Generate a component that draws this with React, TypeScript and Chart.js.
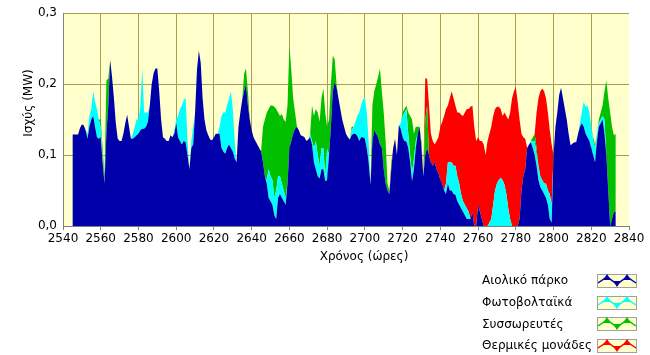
import React, { useEffect, useRef } from 'react';
import { Chart, registerables } from 'chart.js';

Chart.register(...registerables);

// ---- data (hourly, first hour = 2545) ----
const START_HOUR = 2545;

const WIND = [
  0.129, 0.129, 0.129, 0.129, 0.138, 0.143, 0.142, 0.135, 0.123, 0.140,
  0.150, 0.155, 0.140, 0.125, 0.123, 0.125, 0.090, 0.060, 0.130, 0.170,
  0.234, 0.210, 0.180, 0.145, 0.123, 0.120, 0.120, 0.130, 0.145, 0.157,
  0.140, 0.123, 0.123, 0.125, 0.128, 0.130, 0.135, 0.137, 0.137, 0.140,
  0.147, 0.170, 0.200, 0.215, 0.222, 0.222, 0.190, 0.150, 0.125, 0.123,
  0.120, 0.120, 0.128, 0.125, 0.130, 0.145, 0.125, 0.120, 0.115, 0.120,
  0.118, 0.100, 0.080, 0.110, 0.115, 0.160, 0.220, 0.247, 0.230, 0.180,
  0.150, 0.135, 0.128, 0.122, 0.121, 0.125, 0.130, 0.130, 0.130, 0.110,
  0.105, 0.102, 0.110, 0.115, 0.110, 0.105, 0.095, 0.090, 0.140, 0.160,
  0.178, 0.190, 0.200, 0.170, 0.150, 0.135, 0.125, 0.120, 0.115, 0.110,
  0.105, 0.090, 0.070, 0.060, 0.040, 0.035, 0.030, 0.015, 0.010, 0.040,
  0.045, 0.040, 0.035, 0.030, 0.060, 0.110, 0.120, 0.130, 0.137, 0.140,
  0.135, 0.128, 0.127, 0.125, 0.120, 0.122, 0.125, 0.115, 0.090, 0.080,
  0.070, 0.067, 0.080, 0.080, 0.063, 0.065, 0.100, 0.140, 0.190, 0.203,
  0.195, 0.180, 0.165, 0.150, 0.140, 0.130, 0.125, 0.122, 0.128, 0.130,
  0.130, 0.127, 0.120, 0.125, 0.125, 0.123, 0.110, 0.090, 0.058, 0.120,
  0.135, 0.130, 0.125, 0.115, 0.110, 0.080, 0.060, 0.050, 0.045, 0.080,
  0.110, 0.123, 0.100, 0.142, 0.137, 0.125, 0.120, 0.119, 0.110, 0.090,
  0.063, 0.080, 0.110, 0.130, 0.140, 0.110, 0.070, 0.100, 0.110, 0.100,
  0.090, 0.085, 0.090, 0.080, 0.075, 0.065, 0.060, 0.050, 0.045, 0.060,
  0.050, 0.050, 0.045, 0.044, 0.035, 0.030, 0.025, 0.020, 0.015, 0.010,
  0.010, 0.010, 0.020, 0, 0, 0.030, 0.020, 0.010, 0, 0,
  0, 0, 0, 0, 0, 0, 0, 0, 0, 0,
  0, 0, 0, 0, 0, 0, 0, 0.010, 0.050, 0.070,
  0.080, 0.110, 0.115, 0.118, 0.110, 0.100, 0.085, 0.065, 0.055, 0.050,
  0.045, 0.040, 0.030, 0.010, 0.005, 0.100, 0.140, 0.160, 0.185, 0.195,
  0.180, 0.165, 0.150, 0.130, 0.114, 0.116, 0.118, 0.118, 0.130, 0.140,
  0.145, 0.140, 0.130, 0.125, 0.120, 0.110, 0.100, 0.090, 0.120, 0.140,
  0.145, 0.150, 0.130, 0.100, 0.050, 0, 0.010, 0.020, 0.020,
];

const PV = [
  0, 0, 0, 0, 0, 0, 0, 0, 0.007, 0.015,
  0.015, 0.035, 0.035, 0.040, 0.027, 0.015, 0.005, 0, 0, 0,
  0, 0, 0, 0, 0, 0, 0, 0, 0, 0,
  0, 0, 0.007, 0.015, 0.022, 0.020, 0.035, 0.085, 0.023, 0.020,
  0.013, 0, 0, 0, 0, 0, 0, 0, 0, 0,
  0, 0, 0, 0, 0.005, 0.005, 0.030, 0.045, 0.055, 0.058,
  0.062, 0.020, 0, 0.010, 0.025, 0, 0, 0, 0, 0,
  0, 0, 0, 0, 0, 0, 0, 0, 0.010, 0.045,
  0.055, 0.058, 0.060, 0.065, 0.080, 0.060, 0.025, 0, 0, 0,
  0, 0, 0, 0, 0, 0, 0, 0, 0, 0,
  0, 0, 0, 0.005, 0.040, 0.035, 0.035, 0.025, 0.040, 0.030,
  0.025, 0.020, 0.015, 0.010, 0, 0, 0, 0, 0, 0,
  0, 0, 0, 0, 0, 0, 0.005, 0.005, 0.020, 0.040,
  0.030, 0.018, 0.030, 0.030, 0.007, 0.045, 0, 0, 0, 0,
  0, 0, 0, 0, 0, 0, 0, 0, 0.007, 0.010,
  0.017, 0.028, 0.040, 0.045, 0.053, 0.059, 0.050, 0.030, 0.002, 0,
  0, 0, 0, 0, 0, 0, 0, 0, 0, 0,
  0, 0, 0, 0, 0.008, 0.030, 0.040, 0.046, 0.020, 0.010,
  0.012, 0.015, 0.010, 0, 0, 0, 0, 0, 0, 0,
  0, 0, 0, 0, 0, 0, 0, 0, 0.015, 0.030,
  0.040, 0.040, 0.040, 0.041, 0.035, 0.030, 0.020, 0.015, 0.015, 0.015,
  0.010, 0, 0, 0, 0, 0, 0, 0, 0, 0,
  0, 0.005, 0.010, 0.030, 0.050, 0.060, 0.065, 0.068, 0.065, 0.058,
  0.045, 0.025, 0.010, 0, 0, 0, 0, 0, 0, 0,
  0, 0, 0, 0.002, 0.010, 0.020, 0.015, 0.020, 0.015, 0.015,
  0.015, 0.020, 0.020, 0.035, 0.025, 0, 0, 0, 0, 0,
  0, 0, 0, 0, 0, 0, 0, 0, 0, 0.005,
  0.015, 0.035, 0.038, 0.045, 0.040, 0.030, 0.020, 0.020, 0.010, 0.005,
  0.005, 0.005, 0.020, 0, 0, 0, 0, 0, 0,
];

const BATTERY = [
  0, 0, 0, 0, 0, 0, 0, 0, 0, 0,
  0, 0, 0, 0, 0, 0.010, 0.015, 0.010, 0.075, 0.038,
  0, 0, 0, 0, 0, 0, 0, 0, 0, 0,
  0, 0, 0, 0, 0, 0, 0, 0, 0, 0,
  0, 0, 0, 0, 0, 0, 0, 0, 0, 0,
  0, 0, 0, 0, 0, 0, 0, 0, 0, 0,
  0, 0, 0, 0, 0, 0, 0, 0, 0, 0,
  0, 0, 0, 0, 0, 0, 0, 0, 0, 0,
  0, 0, 0, 0, 0, 0, 0, 0, 0, 0,
  0, 0.025, 0.022, 0.020, 0, 0, 0, 0, 0, 0,
  0, 0.050, 0.080, 0.095, 0.085, 0.100, 0.105, 0.128, 0.115, 0.090,
  0.085, 0.098, 0.100, 0.107, 0.110, 0.145, 0.100, 0.050, 0.023, 0,
  0, 0, 0, 0, 0, 0, 0, 0.050, 0.045, 0.045,
  0.060, 0.062, 0.070, 0.084, 0.090, 0.030, 0.050, 0.060, 0.050, 0.032,
  0.005, 0, 0, 0, 0, 0, 0, 0, 0.005, 0,
  0, 0, 0, 0, 0, 0, 0, 0, 0, 0.050,
  0.055, 0.070, 0.085, 0.107, 0.080, 0.080, 0.060, 0.010, 0.005, 0.010,
  0, 0, 0, 0, 0, 0.005, 0.005, 0.005, 0.030, 0.055,
  0.075, 0.035, 0.020, 0.010, 0, 0.010, 0, 0.050, 0.060, 0,
  0, 0, 0, 0, 0, 0, 0, 0, 0, 0,
  0, 0, 0, 0, 0, 0, 0, 0, 0, 0,
  0, 0, 0, 0, 0, 0, 0, 0, 0, 0,
  0, 0, 0, 0, 0, 0, 0, 0, 0, 0,
  0, 0, 0, 0, 0, 0, 0, 0, 0, 0,
  0, 0, 0, 0, 0.005, 0.010, 0.010, 0, 0, 0,
  0, 0, 0, 0, 0, 0, 0, 0, 0, 0,
  0, 0, 0, 0, 0, 0, 0, 0, 0, 0,
  0, 0, 0, 0, 0, 0, 0.005, 0.005, 0, 0.005,
  0.010, 0.015, 0.040, 0.105, 0.130, 0.160, 0.130, 0.108, 0.110,
];

const THERMAL = [
  0, 0, 0, 0, 0, 0, 0, 0, 0, 0,
  0, 0, 0, 0, 0, 0, 0, 0, 0, 0,
  0, 0, 0, 0, 0, 0, 0, 0, 0, 0,
  0, 0, 0, 0, 0, 0, 0, 0, 0, 0,
  0, 0, 0, 0, 0, 0, 0, 0, 0, 0,
  0, 0, 0, 0, 0, 0, 0, 0, 0, 0,
  0, 0, 0, 0, 0, 0, 0, 0, 0, 0,
  0, 0, 0, 0, 0, 0, 0, 0, 0, 0,
  0, 0, 0, 0, 0, 0, 0, 0, 0, 0,
  0, 0, 0, 0, 0, 0, 0, 0, 0, 0,
  0, 0, 0, 0, 0, 0, 0, 0, 0, 0,
  0, 0, 0, 0, 0, 0, 0, 0, 0, 0,
  0, 0, 0, 0, 0, 0, 0, 0, 0, 0,
  0, 0, 0, 0, 0, 0, 0, 0, 0, 0,
  0, 0, 0, 0, 0, 0, 0, 0, 0, 0,
  0, 0, 0, 0, 0, 0, 0, 0, 0, 0,
  0, 0, 0, 0, 0, 0, 0, 0, 0, 0,
  0, 0, 0, 0, 0, 0, 0, 0, 0, 0,
  0, 0, 0, 0, 0, 0, 0, 0.058, 0.038, 0.070,
  0.040, 0.035, 0.025, 0.040, 0.050, 0.075, 0.087, 0.105, 0.105, 0.080,
  0.090, 0.100, 0.095, 0.085, 0.090, 0.100, 0.112, 0.120, 0.130, 0.140,
  0.145, 0.158, 0.150, 0.140, 0.120, 0.095, 0.100, 0.110, 0.115, 0.100,
  0.120, 0.125, 0.130, 0.125, 0.115, 0.108, 0.103, 0.097, 0.090, 0.102,
  0.110, 0.125, 0.150, 0.180, 0.190, 0.196, 0.175, 0.140, 0.080, 0.055,
  0.043, 0, 0, 0, 0, 0, 0.050, 0.095, 0.120, 0.129,
  0.130, 0.120, 0.110, 0.090, 0.085, 0, 0, 0, 0, 0,
  0, 0, 0, 0, 0, 0, 0, 0, 0, 0,
  0, 0, 0, 0, 0, 0, 0, 0, 0, 0,
  0, 0, 0, 0, 0, 0, 0, 0, 0,
];

const HOURS = WIND.map((_, i) => START_HOUR + i);

const SERIES_LABELS = ['Αιολικό πάρκο', 'Φωτοβολταϊκά', 'Συσσωρευτές', 'Θερμικές μονάδες'];
const SERIES_VALUES = [WIND, PV, BATTERY, THERMAL];
const SERIES_COLORS = ['#0000AA', '#00FFFF', '#00C000', '#FF0000'];

const X_MIN = 2540;
const X_MAX = 2840;
const X_STEP = 20;
const Y_MIN = 0;
const Y_MAX = 0.3;
const Y_STEP = 0.1;
const X_TITLE = 'Χρόνος (ώρες)';
const Y_TITLE = 'Ισχύς (MW)';

const FONT_FAMILY = '"DejaVu Sans", Verdana, sans-serif';
const GRID_COLOR = '#A8A050';
const AXIS_COLOR = '#808080';
const PLOT_BG = '#FFFFCC';

const decorPlugin = {
  id: 'decor',
  beforeDraw(chart: any) {
    const { ctx, chartArea: a } = chart;
    ctx.save();
    ctx.fillStyle = PLOT_BG;
    ctx.fillRect(a.left, a.top, a.right - a.left, a.bottom - a.top);
    ctx.restore();
  },
  afterDraw(chart: any) {
    const { ctx } = chart;
    ctx.save();
    ctx.font = `12px ${FONT_FAMILY}`;
    ctx.fillStyle = '#000';
    ctx.textBaseline = 'middle';
    // axis titles
    ctx.textAlign = 'center';
    ctx.fillText(X_TITLE, 364, 257);
    ctx.save();
    ctx.translate(29, 103);
    ctx.rotate(-Math.PI / 2);
    ctx.fillText(Y_TITLE, 0, 0);
    ctx.restore();

    // legend
    const ds = chart.data.datasets;
    for (let i = 0; i < ds.length; i++) {
      const cy = 281 + i * 21.7;
      ctx.textAlign = 'left';
      ctx.fillStyle = '#000';
      ctx.fillText(ds[i].label, 482, cy);
      const bx = 597;
      const by = Math.round(cy - 7);
      ctx.fillStyle = PLOT_BG;
      ctx.fillRect(bx, by, 40, 14);
      ctx.strokeStyle = '#A0A0A0';
      ctx.lineWidth = 1;
      ctx.strokeRect(bx + 0.5, by + 0.5, 39, 13);
      const col = ds[i].backgroundColor;
      ctx.strokeStyle = col;
      ctx.fillStyle = col;
      ctx.lineWidth = 1.5;
      const pts = [[bx + 1, by + 9], [bx + 10, by + 3], [bx + 20, by + 10], [bx + 30, by + 3], [bx + 39, by + 9]];
      ctx.beginPath();
      pts.forEach((p, k) => (k ? ctx.lineTo(p[0], p[1]) : ctx.moveTo(p[0], p[1])));
      ctx.stroke();
      // up triangles at peaks, down triangle at valley
      const tri = (x: number, y: number, up: boolean) => {
        ctx.beginPath();
        if (up) {
          ctx.moveTo(x, y - 3);
          ctx.lineTo(x + 4, y + 3);
          ctx.lineTo(x - 4, y + 3);
        } else {
          ctx.moveTo(x, y + 3);
          ctx.lineTo(x + 4, y - 3);
          ctx.lineTo(x - 4, y - 3);
        }
        ctx.closePath();
        ctx.fill();
      };
      tri(bx + 10, by + 3, true);
      tri(bx + 30, by + 3, true);
      tri(bx + 20, by + 10, false);
    }
    ctx.restore();
  },
};

export default function App() {
  const canvasRef = useRef<HTMLCanvasElement | null>(null);

  useEffect(() => {
    const canvas = canvasRef.current;
    if (!canvas) return;
    const font = { family: FONT_FAMILY, size: 12 };
    const chart = new Chart(canvas, {
      type: 'line',
      data: {
        labels: HOURS,
        datasets: SERIES_VALUES.map((vals, i) => ({
          label: SERIES_LABELS[i],
          data: vals,
          backgroundColor: SERIES_COLORS[i],
          borderColor: SERIES_COLORS[i],
          borderWidth: 0,
          pointRadius: 0,
          pointHoverRadius: 0,
          tension: 0,
          fill: i === 0 ? 'origin' : '-1',
        })),
      },
      options: {
        responsive: false,
        animation: false,
        devicePixelRatio: 1,
        layout: { padding: { top: 12, right: 21, bottom: 90, left: 0 } },
        plugins: {
          legend: { display: false },
          tooltip: { enabled: false },
          title: { display: false },
        },
        scales: {
          x: {
            type: 'linear',
            min: X_MIN,
            max: X_MAX,
            ticks: {
              stepSize: X_STEP,
              color: '#000',
              font,
              padding: 2,
              maxRotation: 0,
              autoSkip: false,
              callback: (v: any) => String(v),
            },
            grid: {
              color: (c: any) => (c.tick && c.tick.value === X_MAX ? 'rgba(0,0,0,0)' : GRID_COLOR),
              tickColor: AXIS_COLOR,
              tickLength: 4,
              drawTicks: true,
              lineWidth: 1,
            },
            border: { color: AXIS_COLOR },
            title: { display: false },
            afterFit: (s: any) => {
              s.height = 39;
            },
          },
          y: {
            stacked: true,
            min: Y_MIN,
            max: Y_MAX,
            ticks: {
              stepSize: Y_STEP,
              color: '#000',
              font,
              padding: 6,
              callback: (v: any) => Number(v).toFixed(1).replace('.', ','),
            },
            grid: { color: GRID_COLOR, drawTicks: false, lineWidth: 1 },
            border: { color: AXIS_COLOR },
            title: { display: false },
            afterFit: (s: any) => {
              s.width = 63;
            },
          },
        },
      },
      plugins: [decorPlugin],
    } as any);
    return () => chart.destroy();
  }, []);

  return (
    <div style={{ position: 'fixed', left: 0, top: 0, width: 650, height: 355, background: '#fff' }}>
      <canvas ref={canvasRef} width={650} height={355} style={{ display: 'block' }} />
    </div>
  );
}
